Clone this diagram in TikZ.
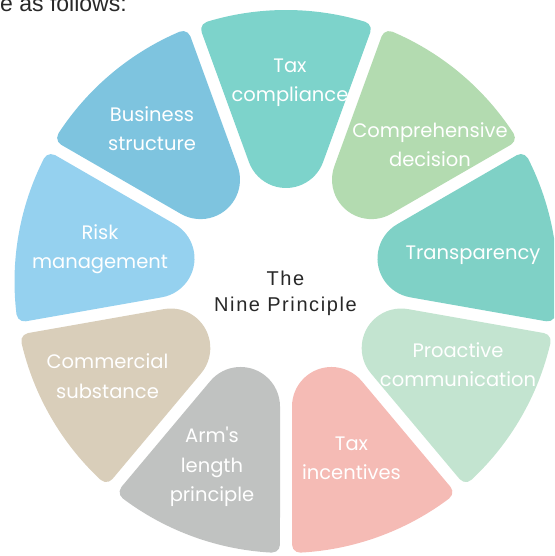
\documentclass[tikz,border=0pt]{standalone}
\usepackage{fontspec}
\setmainfont{Liberation Sans}
\newfontfamily\labelfont[Ligatures=TeXOff]{Poppins}
\newfontfamily\centerfont[LetterSpace=8]{Liberation Sans}
\definecolor{cTaxComp}{RGB}{125,211,203}
\definecolor{cCompDec}{RGB}{179,219,176}
\definecolor{cTransp}{RGB}{127,209,198}
\definecolor{cProact}{RGB}{195,228,208}
\definecolor{cTaxInc}{RGB}{245,187,181}
\definecolor{cArms}{RGB}{192,194,193}
\definecolor{cCommer}{RGB}{217,206,186}
\definecolor{cRisk}{RGB}{149,209,239}
\definecolor{cBusin}{RGB}{126,196,223}
\definecolor{cDark}{RGB}{40,40,40}
\newcommand\ringseg[2]{%
  \begin{scope}[rotate=#1]
    \fill[#2] (\ph:\Rc) ++(\ab:\rr)
      arc[start angle=\ab, end angle=\ph, radius=\rr]
      arc[start angle=\ph, end angle=\mph, radius=\R]
      arc[start angle=\mph, end angle=\aa, radius=\rr]
      -- ([shift={(\D,0)}]\aa:\ri)
      arc[start angle=\ac, end angle=\ab, radius=\ri]
      -- cycle;
  \end{scope}}
\begin{document}
\begin{tikzpicture}[x=1pt,y=1pt,
  seglabel/.style={font=\labelfont\fontsize{19.5}{29.5}\selectfont, text=white, align=center, inner sep=0pt},
  centerlabel/.style={font=\centerfont\fontsize{20}{26}\selectfont, text=cDark, align=center, inner sep=0pt},
  toptext/.style={font=\fontsize{23}{26}\selectfont, text=cDark, inner sep=0pt, anchor=base west}]
\useasboundingbox (-286,-274.5) rectangle (268,281.5);
\clip (-286,-274.5) rectangle (268,281.5);
\pgfmathsetmacro\al{20}
\pgfmathsetmacro\g{6}
\pgfmathsetmacro\R{271.5}
\pgfmathsetmacro\rr{8}
\pgfmathsetmacro\Rc{\R-\rr}
\pgfmathsetmacro\D{(93.5-\g)/(1-sin(\al))}
\pgfmathsetmacro\ri{\D*sin(\al)-\g}
\pgfmathsetmacro\ph{\al-asin((\g+\rr)/(\R-\rr))}
\pgfmathsetmacro\mph{-\ph}
\pgfmathsetmacro\ab{90+\al}
\pgfmathsetmacro\aa{-90-\al}
\pgfmathsetmacro\ac{270-\al}
\ringseg{90}{cTaxComp}
\ringseg{50}{cCompDec}
\ringseg{10}{cTransp}
\ringseg{-30}{cProact}
\ringseg{-70}{cTaxInc}
\ringseg{-110}{cArms}
\ringseg{-150}{cCommer}
\ringseg{170}{cRisk}
\ringseg{130}{cBusin}
\node[seglabel] (taxcomp) at (4,199) {Tax\\compliance};
\node[seglabel] (compdec) at (144,137) {Comprehensive\\decision};
\node[seglabel] (transp) at (187,26) {Transparency};
\node[seglabel] (proact) at (172,-83) {Proactive\\communication};
\node[seglabel] (taxinc) at (65.5,-177) {Tax\\incentives};
\node[seglabel] (arms) at (-74,-185.5) {Arm's\\length\\principle};
\node[seglabel] (commer) at (-178.5,-94.5) {Commercial\\substance};
\node[seglabel] (risk) at (-186,32.5) {Risk\\management};
\node[seglabel] (busin) at (-134,153) {Business\\structure};
\node[centerlabel] (center) at (-0.5,-11.5) {The\\Nine Principle};
\node[toptext] (top) at (-286,269.5) {e as follows:};
\end{tikzpicture}
\end{document}
